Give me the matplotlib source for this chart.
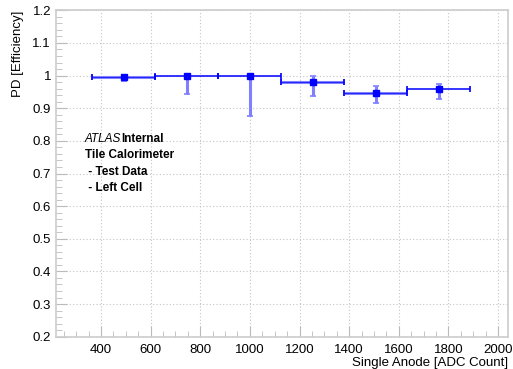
import numpy as np
import matplotlib.pyplot as plt
from matplotlib.ticker import MultipleLocator

plt.rcParams['font.family'] = ['Liberation Sans', 'DejaVu Sans']

# single anode bins (centre, half width) and PD efficiency
anode = [492, 746, 1000, 1254, 1508, 1762]
anode_err = [127, 127, 127, 127, 127, 127]
eff = [0.996, 1.000, 1.000, 0.981, 0.946, 0.958]
eff_lo = [0.984, 0.943, 0.877, 0.937, 0.915, 0.929]
eff_hi = [1.000, 1.000, 1.000, 0.998, 0.968, 0.974]

x = np.array(anode)
y = np.array(eff)
xe = np.array(anode_err)
ylo = y - np.array(eff_lo)
yhi = np.array(eff_hi) - y

fig = plt.figure(figsize=(5.13, 3.69), dpi=100)
ax = fig.add_axes([0.109, 0.0875, 0.881, 0.8845])

light = (0.5, 0.5, 1.0)
# light bins drawn with a thick pale horizontal bar
light_bins = [0, 3, 4]
dark_bins = [1, 2, 5]

ax.errorbar(x, y, yerr=[ylo, yhi], fmt='none', ecolor=light, elinewidth=2.2,
            capsize=2, capthick=1.2, zorder=3)
ax.errorbar(x[light_bins], y[light_bins], xerr=xe[light_bins], fmt='none',
            ecolor=light, elinewidth=2.2, capsize=2.5, capthick=1.2, zorder=3)
ax.errorbar(x[light_bins], y[light_bins], xerr=xe[light_bins], fmt='none',
            ecolor='blue', elinewidth=0.5, capsize=2.5, capthick=1.2, zorder=3)
ax.errorbar(x[dark_bins], y[dark_bins], xerr=xe[dark_bins], fmt='none',
            ecolor='blue', elinewidth=1.1, capsize=2.5, capthick=1.2, zorder=3)
ax.plot(x, y, 's', color='blue', ms=4.5, zorder=4)

ax.set_xlim(218, 2040)
ax.set_ylim(0.2, 1.2)
ax.xaxis.set_major_locator(MultipleLocator(200))
ax.xaxis.set_minor_locator(MultipleLocator(50))
ax.yaxis.set_major_locator(MultipleLocator(0.1))
ax.yaxis.set_minor_locator(MultipleLocator(0.02))
ax.yaxis.set_major_formatter(plt.FuncFormatter(lambda v, p: f"{v:g}"))

ax.grid(True, which='major', linestyle=(0, (1, 2)), color='#c4c4c4', lw=0.8)
for s in ax.spines.values():
    s.set_color('#cccccc')
    s.set_linewidth(1.2)
ax.tick_params(which='both', direction='in', color='#bbbbbb', labelsize=9.5,
               labelcolor='black', top=False, right=False)
ax.tick_params(which='major', length=8)
ax.tick_params(which='minor', length=4)
ax.tick_params(axis='x', pad=5)

ax.set_xlabel('Single Anode [ADC Count]', fontsize=9.5, loc='right', labelpad=1)
ax.set_ylabel('PD [Efficiency]', fontsize=9.5, loc='top', labelpad=6)

ax.text(0.064, 0.597, 'ATLAS', style='italic', fontsize=8.5, transform=ax.transAxes)
ax.text(0.145, 0.597, 'Internal', weight='bold', fontsize=8.5, transform=ax.transAxes)
ax.text(0.064, 0.547, 'Tile Calorimeter', weight='bold', fontsize=8.5, transform=ax.transAxes)
ax.text(0.064, 0.497, ' - Test Data', weight='bold', fontsize=8.5, transform=ax.transAxes)
ax.text(0.064, 0.447, ' - Left Cell', weight='bold', fontsize=8.5, transform=ax.transAxes)

fig.savefig('out.png', dpi=100)
